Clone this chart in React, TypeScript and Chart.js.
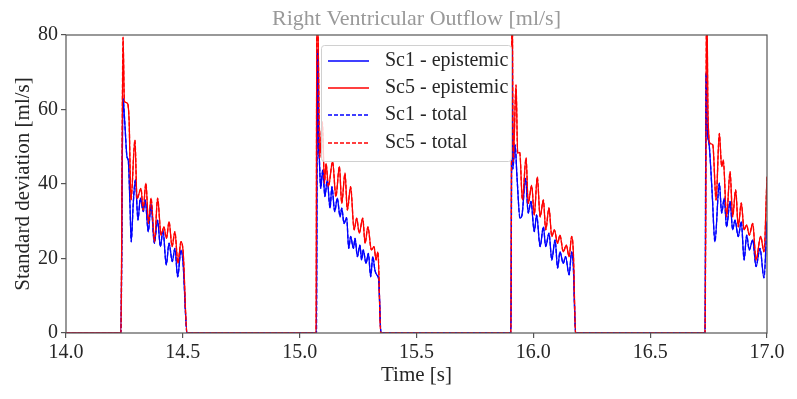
import React, { useEffect, useRef } from "react";
import { Chart, registerables } from "chart.js";

Chart.register(...registerables);

// ---- Data ----
const sc1Time = [
  14.0,
  14.235, 14.244, 14.252, 14.261, 14.267, 14.274, 14.279, 14.288, 14.297, 14.308, 14.318, 14.331, 14.339,
  14.352, 14.364, 14.378, 14.392, 14.404, 14.415, 14.429, 14.441, 14.455, 14.466, 14.478, 14.492, 14.501, 14.518,
  15.072, 15.076, 15.081, 15.084, 15.090, 15.099, 15.108, 15.118, 15.130, 15.138, 15.150, 15.161, 15.173, 15.180,
  15.190, 15.201, 15.210, 15.218, 15.230, 15.237, 15.247, 15.258, 15.265, 15.272, 15.284, 15.294, 15.304, 15.313,
  15.322, 15.331, 15.338, 15.348,
  15.904, 15.909, 15.912, 15.922, 15.930, 15.943, 15.951, 15.967, 15.978, 15.990, 16.004, 16.014, 16.029, 16.043,
  16.053, 16.067, 16.079, 16.093, 16.104, 16.114, 16.128, 16.138, 16.153, 16.164, 16.171, 16.181,
  16.735, 16.739, 16.744, 16.753, 16.765, 16.777, 16.796, 16.806, 16.817, 16.827, 16.842, 16.853, 16.863, 16.877,
  16.890, 16.902, 16.913, 16.924, 16.939, 16.953, 16.970, 16.987, 17.0,
];
const sc1Std = [
  0,
  0, 63, 56, 47.3, 46, 34, 24.5, 35, 41.1, 30.3, 36.2, 32.6, 35.7,
  27.2, 34.4, 24.1, 30.3, 23.2, 27.7, 18.3, 24.1, 19.2, 22.7, 15.1, 22.3, 18.7, 0,
  0, 76, 50, 46.9, 38.8, 43.8, 36.6, 41.1, 33.5, 39.3, 32.6, 36.2, 31.2, 33.5,
  29.4, 31.0, 22.7, 25.9, 22.7, 25.4, 20.5, 23.6, 19.6, 22.3, 18.7, 21.4, 15.1, 20.5,
  16.9, 15.5, 14.5, 0,
  0, 76, 44, 50.5, 42, 30.8, 31.5, 41.5, 32.2, 35.3, 27.2, 31.7, 23.2, 28.5,
  23.2, 26.8, 19.6, 25.0, 17.4, 21.8, 18.7, 20.5, 15.6, 21.8, 18, 0,
  0, 69.7, 55.4, 50.2, 38, 24.5, 40.2, 32.2, 36.2, 28.5, 35.3, 27.7, 30.3, 25.9,
  29.9, 19.6, 26.3, 22.3, 25.0, 17.8, 22.7, 14.8, 30,
];

const sc5Time = [
  14.0,
  14.235, 14.244, 14.250, 14.261, 14.270, 14.278, 14.295, 14.304, 14.321, 14.330, 14.342, 14.353, 14.364,
  14.379, 14.392, 14.407, 14.419, 14.430, 14.441, 14.454, 14.466, 14.479, 14.492, 14.501, 14.518,
  15.070, 15.074, 15.081, 15.085, 15.097, 15.106, 15.113, 15.123, 15.141, 15.155, 15.170, 15.180, 15.194, 15.204,
  15.218, 15.233, 15.244, 15.255, 15.270, 15.280, 15.292, 15.307, 15.318, 15.327, 15.335, 15.347,
  15.904, 15.909, 15.914, 15.926, 15.933, 15.942, 15.953, 15.969, 15.978, 15.993, 16.004, 16.017, 16.029, 16.043,
  16.053, 16.067, 16.079, 16.090, 16.104, 16.114, 16.128, 16.141, 16.153, 16.164, 16.171, 16.181,
  16.735, 16.742, 16.747, 16.756, 16.768, 16.782, 16.796, 16.806, 16.813, 16.827, 16.842, 16.853, 16.866, 16.877,
  16.890, 16.902, 16.913, 16.924, 16.939, 16.953, 16.973, 16.987, 17.0,
];
const sc5Std = [
  0,
  0, 79.4, 62.1, 61.8, 57.2, 35.7, 51.8, 36, 38.8, 33.0, 40.2, 29.4, 36.2,
  24.5, 36.2, 26.3, 28.5, 25.4, 29.9, 23.2, 27.2, 18.7, 24.5, 22, 0,
  0, 95, 70, 47, 56.7, 40.2, 45.5, 39.3, 46.0, 36.6, 44.7, 34.8, 42.9, 33.0,
  39.3, 27.7, 30.8, 26.8, 30.8, 24.1, 28.5, 22.3, 23.2, 19.6, 21.8, 0,
  0, 95, 46, 66.6, 48.3, 48.5, 35.7, 47.0, 34.8, 39.6, 31.7, 41.9, 31.2, 35.7,
  27.7, 33.6, 25.9, 27.7, 24.1, 26.3, 21.8, 23.6, 20.5, 25.9, 22, 0,
  0, 95, 60, 50.9, 50.5, 35.7, 53.6, 44.7, 46.4, 31.2, 43.3, 31.2, 38.4, 28.5,
  34.9, 27.7, 29.0, 26.3, 29.4, 19.6, 25.9, 21.8, 42,
];

// total std overlaps the epistemic curves in the picture
const sc1TotalTime = sc1Time;
const sc1TotalStd = sc1Std;
const sc5TotalTime = sc5Time;
const sc5TotalStd = sc5Std;

const seriesLabels = ["Sc1 - epistemic", "Sc5 - epistemic", "Sc1 - total", "Sc5 - total"];
const seriesColors = ["#0000ff", "#ff0000", "#0000ff", "#ff0000"];
const xTicks = [14.0, 14.5, 15.0, 15.5, 16.0, 16.5, 17.0];
const yTicks = [0, 20, 40, 60, 80];
const titleText = "Right Ventricular Outflow [ml/s]";
const xLabel = "Time [s]";
const yLabel = "Standard deviation [ml/s]";

const FONT = "'Liberation Serif', 'Times New Roman', serif";

function pts(t: number[], v: number[]) {
  return t.map((x, i) => ({ x, y: v[i] }));
}

const overlayPlugin = {
  id: "overlay",
  afterDraw(chart: any) {
    const { ctx, chartArea: a } = chart;
    ctx.save();
    // frame
    ctx.strokeStyle = "#555555";
    ctx.lineWidth = 1.2;
    ctx.strokeRect(a.left, a.top, a.right - a.left, a.bottom - a.top);

    // title
    ctx.font = `22px ${FONT}`;
    ctx.textAlign = "center";
    ctx.textBaseline = "middle";
    ctx.fillStyle = "#999999";
    ctx.fillText(titleText, (a.left + a.right) / 2, 19);

    // axis labels
    ctx.font = `21px ${FONT}`;
    ctx.fillStyle = "#262626";
    ctx.fillText(xLabel, (a.left + a.right) / 2, 375);
    ctx.save();
    ctx.translate(23, (a.top + a.bottom) / 2);
    ctx.rotate(-Math.PI / 2);
    ctx.fillText(yLabel, 0, 0);
    ctx.restore();

    // legend
    const bx = 321.5, by = 45.5, bw = 190, bh = 116, r = 3;
    ctx.beginPath();
    ctx.moveTo(bx + r, by);
    ctx.lineTo(bx + bw - r, by);
    ctx.arcTo(bx + bw, by, bx + bw, by + r, r);
    ctx.lineTo(bx + bw, by + bh - r);
    ctx.arcTo(bx + bw, by + bh, bx + bw - r, by + bh, r);
    ctx.lineTo(bx + r, by + bh);
    ctx.arcTo(bx, by + bh, bx, by + bh - r, r);
    ctx.lineTo(bx, by + r);
    ctx.arcTo(bx, by, bx + r, by, r);
    ctx.closePath();
    ctx.fillStyle = "rgba(255,255,255,0.8)";
    ctx.fill();
    ctx.strokeStyle = "#d0d0d0";
    ctx.lineWidth = 1;
    ctx.stroke();

    const rows = [61, 88, 115, 143];
    chart.data.datasets.forEach((ds: any, i: number) => {
      const y = rows[i];
      ctx.beginPath();
      ctx.strokeStyle = seriesColors[i];
      ctx.lineWidth = 1.4;
      ctx.setLineDash(i >= 2 ? [4, 2] : []);
      ctx.moveTo(328, y);
      ctx.lineTo(369, y);
      ctx.stroke();
      ctx.setLineDash([]);
      ctx.fillStyle = "#262626";
      ctx.textAlign = "left";
      ctx.font = `20px ${FONT}`;
      ctx.fillText(ds.label, 385, y);
    });
    ctx.restore();
  },
};

export default function App() {
  const ref = useRef<HTMLCanvasElement | null>(null);

  useEffect(() => {
    if (!ref.current) return;
    Chart.defaults.font.family = FONT;
    const common = {
      pointRadius: 0,
      borderWidth: 1.3,
      fill: false,
      cubicInterpolationMode: "monotone" as const,
    };
    const chart = new Chart(ref.current, {
      type: "line",
      data: {
        datasets: [
          { ...common, label: seriesLabels[0], data: pts(sc1Time, sc1Std), borderColor: seriesColors[0], order: 4 },
          { ...common, label: seriesLabels[1], data: pts(sc5Time, sc5Std), borderColor: seriesColors[1], order: 3 },
          { ...common, label: seriesLabels[2], data: pts(sc1TotalTime, sc1TotalStd), borderColor: seriesColors[2], borderDash: [4, 2], order: 2 },
          { ...common, label: seriesLabels[3], data: pts(sc5TotalTime, sc5TotalStd), borderColor: seriesColors[3], borderDash: [4, 2], order: 1 },
        ],
      },
      options: {
        responsive: false,
        animation: false,
        devicePixelRatio: 1,
        layout: { padding: { top: 35, right: 30, left: 0, bottom: 0 } },
        plugins: { legend: { display: false }, tooltip: { enabled: false }, title: { display: false } },
        scales: {
          x: {
            type: "linear",
            min: 14,
            max: 17,
            afterBuildTicks: (s: any) => { s.ticks = xTicks.map((v) => ({ value: v })); },
            afterFit: (s: any) => { s.height = 66; },
            ticks: {
              color: "#262626",
              font: { size: 20, family: FONT },
              padding: 3,
              maxRotation: 0,
              autoSkip: false,
              callback: (v: any) => Number(v).toFixed(1),
            },
            grid: { drawOnChartArea: false, drawTicks: true, tickLength: 5, color: "#555555", lineWidth: 1.2 },
            border: { display: false },
          },
          y: {
            type: "linear",
            min: 0,
            max: 80,
            afterBuildTicks: (s: any) => { s.ticks = yTicks.map((v) => ({ value: v })); },
            afterFit: (s: any) => { s.width = 66; },
            ticks: {
              color: "#262626",
              font: { size: 20, family: FONT },
              padding: 3,
              autoSkip: false,
              callback: (v: any) => String(v),
            },
            grid: { drawOnChartArea: false, drawTicks: true, tickLength: 5, color: "#555555", lineWidth: 1.2 },
            border: { display: false },
          },
        },
      },
      plugins: [overlayPlugin],
    });
    return () => chart.destroy();
  }, []);

  return (
    <div style={{ position: "fixed", left: 0, top: 0, width: 797, height: 399, background: "#ffffff" }}>
      <canvas ref={ref} width={797} height={399} style={{ display: "block" }} />
    </div>
  );
}
